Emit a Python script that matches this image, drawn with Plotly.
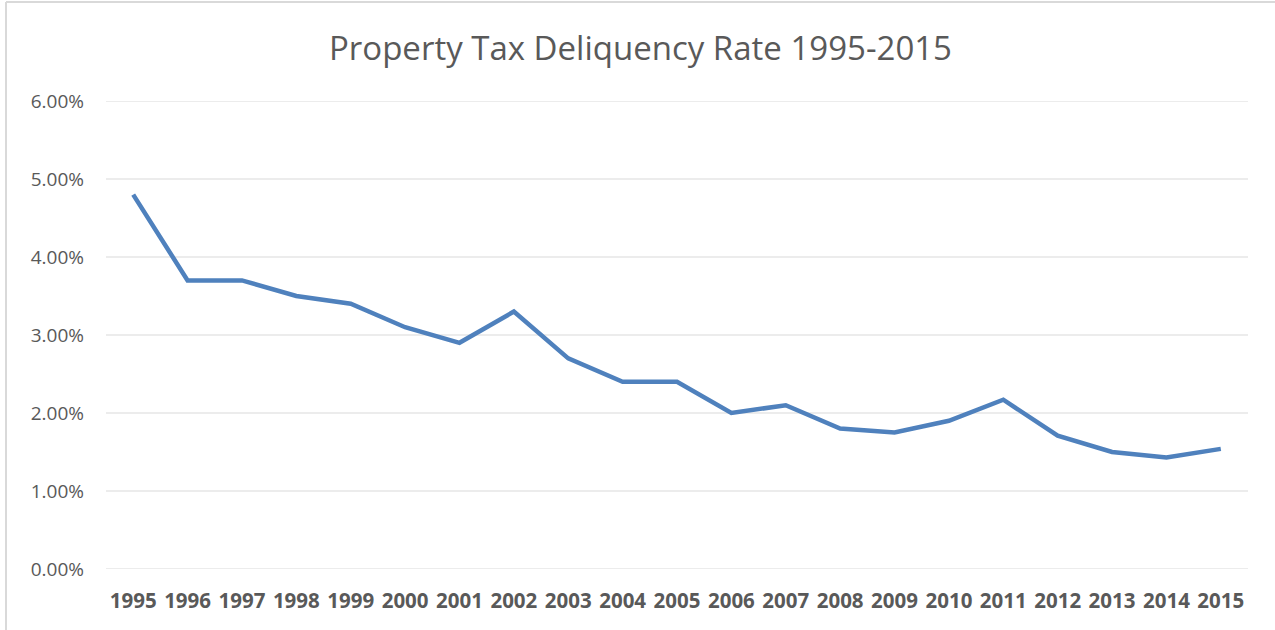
import plotly.graph_objects as go

years = [str(y) for y in range(1995, 2016)]
rates = [0.048, 0.037, 0.037, 0.035, 0.034, 0.031, 0.029, 0.033, 0.027, 0.024, 0.024,
         0.020, 0.021, 0.018, 0.0175, 0.019, 0.0217, 0.0171, 0.015, 0.0143, 0.0154]
y_ticks = [0, 0.01, 0.02, 0.03, 0.04, 0.05, 0.06]

W, H = 1275, 630
L, R, T, B = 106, 27, 101, 61
pw = W - L - R
ph = H - T - B

fig = go.Figure(go.Scatter(
    x=years, y=rates, mode="lines",
    line=dict(color="#4F81BD", width=4.5, shape="linear"),
    hoverinfo="x+y",
))

# gridlines as shapes so the edge lines (0% and 6%) are shown
grid_shapes = [
    dict(type="line", xref="paper", yref="y", x0=0, x1=1, y0=v, y1=v,
         line=dict(color="#D9D9D9", width=1), layer="below")
    for v in y_ticks
]

border = [
    dict(type="line", xref="paper", yref="paper",
         x0=(6 - L) / pw, x1=(6 - L) / pw, y0=(H - B - 2) / ph, y1=(H - B - 660) / ph,
         line=dict(color="#D9D9D9", width=2)),
    dict(type="line", xref="paper", yref="paper",
         x0=(6 - L) / pw, x1=(1300 - L) / pw, y0=(H - B - 2) / ph, y1=(H - B - 2) / ph,
         line=dict(color="#D9D9D9", width=2)),
]

fig.update_layout(
    width=W, height=H,
    margin=dict(l=L, r=R, t=T, b=B),
    paper_bgcolor="white", plot_bgcolor="white",
    showlegend=False,
    title=dict(text="Property Tax Deliquency Rate 1995-2015", x=640.5 / W, xanchor="center",
               y=1 - 48 / H, yanchor="middle",
               font=dict(family="Open Sans, Noto Sans, sans-serif", size=33, color="#595959")),
    xaxis=dict(type="category", range=[-0.5, 20.5], showgrid=False, zeroline=False,
               showline=False, ticks="",
               tickfont=dict(family="Open Sans, sans-serif", size=20.5, color="#595959", weight="bold"),
               ticklabelstandoff=17),
    yaxis=dict(range=[0, 0.06], tickvals=y_ticks, tickformat=".2%", showgrid=False,
               zeroline=False, showline=False, ticks="",
               tickfont=dict(family="Open Sans, sans-serif", size=19, color="#595959"),
               ticklabelstandoff=21),
    shapes=grid_shapes + border,
)

fig.write_html("out.html", config={"displayModeBar": False},
               post_script="document.body.style.margin='0px';")
